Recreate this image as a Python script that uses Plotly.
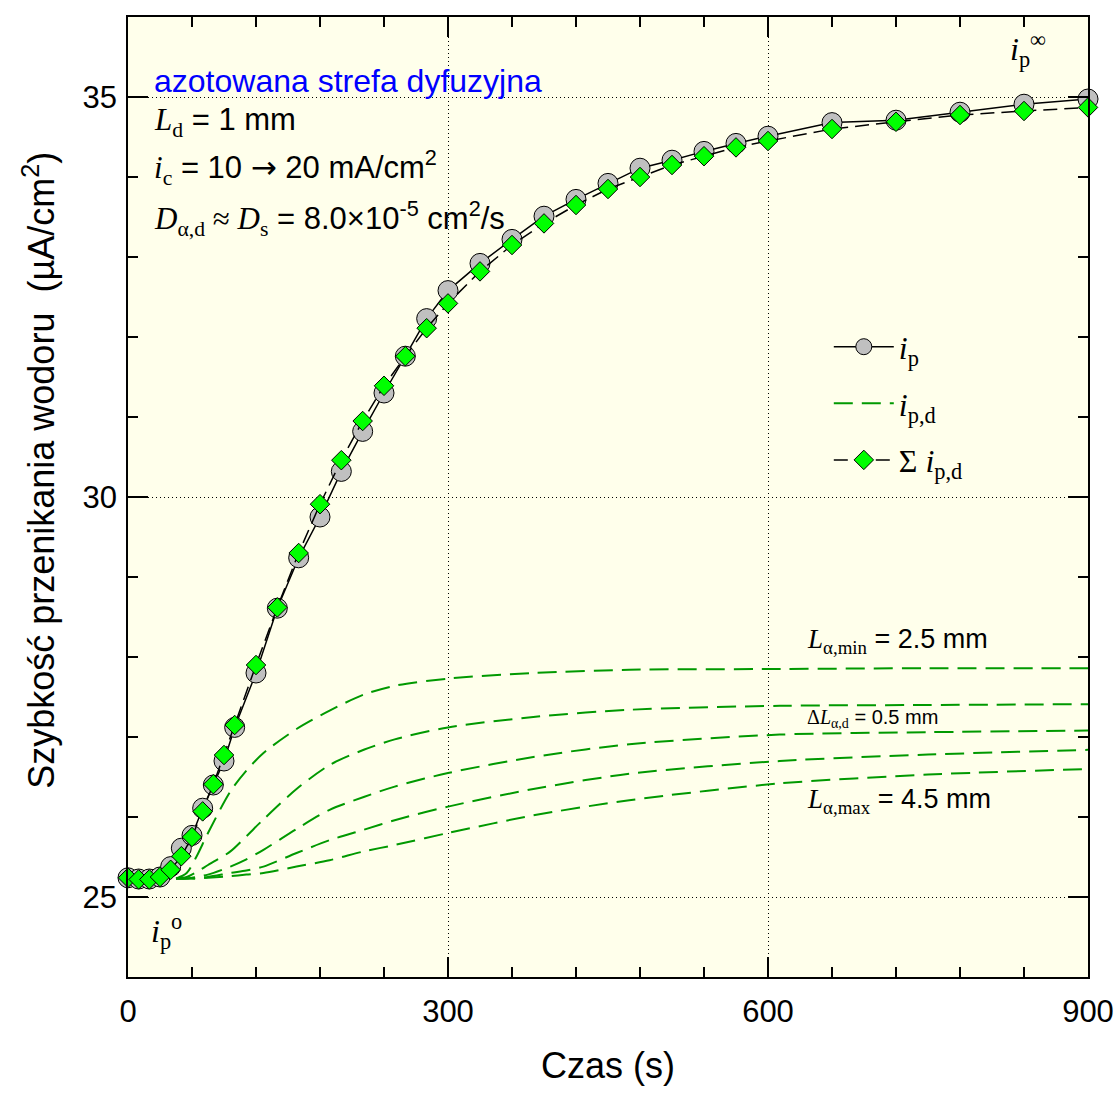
import plotly.graph_objects as go

# ---- data ----
t_points = [0, 10, 20, 30, 40, 50, 60, 70, 80, 90, 100, 120, 140, 160, 180, 200, 220, 240,
            260, 280, 300, 330, 360, 390, 420, 450, 480, 510, 540, 570, 600, 660, 720, 780, 840, 900]
i_p = [25.24, 25.225, 25.225, 25.25, 25.38, 25.61, 25.77, 26.11, 26.40, 26.70, 27.12, 27.80,
       28.61, 29.24, 29.75, 30.32, 30.82, 31.30, 31.76, 32.23, 32.58, 32.92, 33.22, 33.51,
       33.72, 33.92, 34.11, 34.21, 34.32, 34.42, 34.51, 34.68, 34.71, 34.81, 34.91, 34.975]
sum_ipd = [25.24, 25.22, 25.22, 25.25, 25.34, 25.51, 25.75, 26.07, 26.41, 26.775, 27.15, 27.90,
           28.62, 29.30, 29.91, 30.46, 30.95, 31.39, 31.76, 32.11, 32.42, 32.82, 33.15, 33.42,
           33.65, 33.85, 34.00, 34.15, 34.26, 34.37, 34.45, 34.60, 34.69, 34.775, 34.825, 34.87]

t_curves = [45, 55, 64, 75, 96, 111, 127, 158, 189, 221, 250, 300, 380, 470, 611, 750, 900]
ipd_L25 = [25.23, 25.30, 25.50, 25.80, 26.32, 26.58, 26.80, 27.10, 27.33, 27.53, 27.64, 27.73, 27.80, 27.84, 27.85, 27.86, 27.86]
ipd_L30 = [25.23, 25.25, 25.31, 25.40, 25.57, 25.76, 25.97, 26.35, 26.65, 26.84, 26.97, 27.12, 27.25, 27.34, 27.39, 27.40, 27.41]
ipd_L35 = [25.23, 25.23, 25.25, 25.28, 25.38, 25.47, 25.59, 25.85, 26.09, 26.25, 26.38, 26.55, 26.75, 26.91, 27.03, 27.06, 27.08]
ipd_L40 = [25.23, 25.23, 25.24, 25.25, 25.30, 25.33, 25.38, 25.55, 25.71, 25.84, 25.96, 26.13, 26.35, 26.54, 26.70, 26.78, 26.84]
ipd_L45 = [25.23, 25.23, 25.23, 25.24, 25.26, 25.28, 25.30, 25.38, 25.46, 25.57, 25.65, 25.80, 26.02, 26.21, 26.42, 26.53, 26.60]
curves = [ipd_L25, ipd_L30, ipd_L35, ipd_L40, ipd_L45]

SANS = "Liberation Sans"
SERIF = "Liberation Serif"


def serif(t):
    return '<span style="font-family:Liberation Serif">' + t + '</span>'


def dejavu(t):
    return '<span style="font-family:DejaVu Sans">' + t + '</span>'


fig = go.Figure()

for k, c in enumerate(curves):
    fig.add_trace(go.Scatter(
        x=t_curves, y=c, mode="lines",
        line=dict(color="#009900", width=2, dash="19px,9px", shape="spline", smoothing=0.8),
        name=serif("<i>i</i><sub>p,d</sub>"), showlegend=(k == 0), legendrank=2,
        legendgroup="g2", cliponaxis=False))

fig.add_trace(go.Scatter(
    x=t_points, y=i_p, mode="lines+markers", name=serif("<i>i</i><sub>p</sub>"),
    line=dict(color="black", width=1.5),
    marker=dict(symbol="circle", size=20, color="#C0C0C0", line=dict(color="black", width=1)),
    legendrank=1, legendgroup="g1", cliponaxis=False))

fig.add_trace(go.Scatter(
    x=t_points, y=sum_ipd, mode="lines+markers", name=serif("Σ <i>i</i><sub>p,d</sub>"),
    line=dict(color="black", width=1.5, dash="14px,7px"),
    marker=dict(symbol="diamond", size=15, color="#00FF00", line=dict(color="black", width=1)),
    legendrank=3, legendgroup="g3", cliponaxis=False))

axis_common = dict(
    showline=True, linecolor="black", linewidth=1.5, mirror="ticks",
    ticks="inside", ticklen=20, tickwidth=1.5, tickcolor="black",
    showgrid=True, gridcolor="black", gridwidth=1, griddash="1px,3px",
    zeroline=False, tickfont=dict(family=SANS, size=31, color="black"), automargin=False,
)

fig.update_xaxes(range=[0, 900], tick0=0, dtick=300,
                 minor=dict(dtick=60, ticks="inside", ticklen=10, tickwidth=1.5, tickcolor="black", showgrid=False),
                 ticklabelstandoff=6, **axis_common)
fig.update_yaxes(range=[24, 36], tick0=25, dtick=5,
                 minor=dict(dtick=1, ticks="inside", ticklen=10, tickwidth=1.5, tickcolor="black", showgrid=False),
                 ticklabelstandoff=3, **axis_common)

ann = []
# axis titles
ann.append(dict(text="Czas (s)", xref="paper", yref="paper", x=0.5, y=-0.092, yanchor="middle",
                xanchor="center", showarrow=False, font=dict(family=SANS, size=36, color="black")))
ann.append(dict(text="Szybkość przenikania wodoru\u00a0\u00a0(µA/cm<sup>2</sup>)", xref="paper", yref="paper",
                x=-0.093, y=0.528, xanchor="center", yanchor="middle", textangle=-90, showarrow=False,
                font=dict(family=SANS, size=36, color="black")))
# info block
ann.append(dict(text="azotowana strefa dyfuzyjna", x=22.5, y=35.2, xanchor="left", yanchor="middle",
                showarrow=False, font=dict(family=SANS, size=32, color="#0000FF")))
ann.append(dict(text=serif("<i>L</i><sub>d</sub>") + " = 1 mm", x=22.5, y=34.69, xanchor="left",
                yanchor="middle", showarrow=False, font=dict(family=SANS, size=31, color="black")))
ann.append(dict(text=serif("<i>i</i><sub>c</sub>") + " = 10 " + dejavu("→") + " 20 mA/cm<sup>2</sup>",
                x=22.5, y=34.12, xanchor="left", yanchor="middle", showarrow=False,
                font=dict(family=SANS, size=31, color="black")))
ann.append(dict(text=serif("<i>D</i><sub>α,d</sub> ≈ <i>D</i><sub>s</sub>") + " = 8.0×10<sup>-5</sup> cm<sup>2</sup>/s",
                x=22.5, y=33.48, xanchor="left", yanchor="middle", showarrow=False,
                font=dict(family=SANS, size=31, color="black")))
# curve labels
ann.append(dict(text=serif("<i>L</i><sub>α,min</sub>") + " = 2.5 mm", x=635, y=28.2, xanchor="left",
                yanchor="middle", showarrow=False, font=dict(family=SANS, size=27, color="black")))
ann.append(dict(text=serif("Δ<i>L</i><sub>α,d</sub>") + " = 0.5 mm", x=635, y=27.23, xanchor="left",
                yanchor="middle", showarrow=False, font=dict(family=SANS, size=20, color="black")))
ann.append(dict(text=serif("<i>L</i><sub>α,max</sub>") + " = 4.5 mm", x=635, y=26.2, xanchor="left",
                yanchor="middle", showarrow=False, font=dict(family=SANS, size=27, color="black")))
# i_p^o and i_p^inf
ann.append(dict(text=serif("<i>i</i><sub>p</sub><sup>o</sup>"), x=20, y=24.57, xanchor="left",
                yanchor="middle", showarrow=False, font=dict(family=SERIF, size=32, color="black")))
ann.append(dict(text=serif("<i>i</i><sub>p</sub><sup>∞</sup>"), x=825, y=35.6, xanchor="left",
                yanchor="middle", showarrow=False, font=dict(family=SERIF, size=32, color="black")))

fig.update_layout(
    width=1117, height=1093,
    margin=dict(l=128, r=29, t=17, b=116),
    paper_bgcolor="white", plot_bgcolor="#FFFFEB",
    font=dict(family=SANS, color="black"),
    annotations=ann,
    legend=dict(x=0.73, y=0.685, xanchor="left", yanchor="top", bgcolor="rgba(0,0,0,0)",
                font=dict(family=SERIF, size=32, color="black"), traceorder="grouped",
                tracegroupgap=12, itemwidth=60),
)

fig.write_html("out.html")
